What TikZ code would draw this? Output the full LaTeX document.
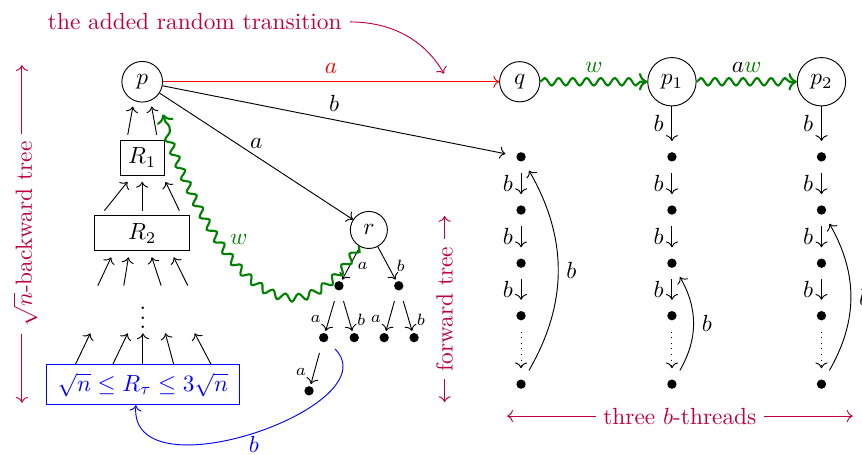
\documentclass[tikz,border=0pt]{standalone}
\usetikzlibrary{arrows.meta, decorations.pathmorphing}
\usepackage{xcolor}
\colorlet{notecol}{purple}
\colorlet{wcol}{green!50!black}

\begin{document}
\begin{tikzpicture}[
    state/.style = {circle, draw},
    rbox/.style  = {rectangle, draw},
    dot/.style   = {circle, fill, inner sep=0pt, minimum size=4pt,
                    outer sep=4.8pt},
    arr/.style   = {-{To}},
    tarr/.style  = {-{To}, shorten >=3pt},
    lbl/.style   = {font=\scriptsize},
    wavy/.style  = {-{To}, draw=wcol, line width=0.9pt, decorate,
                    decoration={snake, amplitude=1.6pt, segment length=6pt,
                                post length=3pt}},
    note/.style  = {{To}-{To}, notecol},
    notetext/.style = {fill=white, inner ysep=1pt},
]
\useasboundingbox (0,0) rectangle (12.97,-6.84);

% ── Top row of states ───────────────────────────────────────────
\node[state] (p)  at (2.14,-1.23)  {$p$};
\node[state] (q)  at (7.82,-1.23)  {$q$};
\node[state] (p1) at (10.11,-1.23) {$p_1$};
\node[state] (p2) at (12.36,-1.23) {$p_2$};

% ── Backward tree ───────────────────────────────────────────────
\node[rbox] (R1) at (2.14,-2.37) {$R_1$};
\node[rbox, minimum width=1.43cm] (R2) at (2.14,-3.51) {$R_2$};
\node (vd) at (2.15,-4.68) {$\vdots$};
\node[rbox, draw=blue, text=blue, inner xsep=5pt] (Rt) at (2.15,-5.79)
    {$\sqrt{n} \le R_\tau \le 3\sqrt{n}$};

\draw[arr] ([xshift=-6.2pt,yshift=2pt]R1.north) -- ([xshift=-4pt,yshift=-1.7pt]p.south);
\draw[arr] ([xshift=6.2pt,yshift=2pt]R1.north) -- ([xshift=4pt,yshift=-1.7pt]p.south);

\draw[arr] ([xshift=-16.2pt,yshift=2pt]R2.north) -- ([xshift=-6.3pt,yshift=-2.7pt]R1.south);
\draw[arr] ([yshift=2pt]R2.north) -- ([yshift=-2.7pt]R1.south);
\draw[arr] ([xshift=15.9pt,yshift=2pt]R2.north) -- ([xshift=10pt,yshift=-2.7pt]R1.south);

\draw[arr] ([xshift=-19pt,yshift=-14.7pt]R2.south) -- ([xshift=-13.3pt,yshift=-2.6pt]R2.south);
\draw[arr] ([xshift=-7.9pt,yshift=-14.7pt]R2.south) -- ([xshift=-5.9pt,yshift=-2.6pt]R2.south);
\draw[arr] ([xshift=8.1pt,yshift=-14.7pt]R2.south) -- ([xshift=4.1pt,yshift=-2.6pt]R2.south);
\draw[arr] ([xshift=19.5pt,yshift=-14.7pt]R2.south) -- ([xshift=13.5pt,yshift=-2.6pt]R2.south);

\draw[arr] ([xshift=-28.9pt]Rt.north) -- ([xshift=-22.5pt,yshift=13.3pt]Rt.north);
\draw[arr] ([xshift=-12.9pt]Rt.north) -- ([xshift=-6.5pt,yshift=13.3pt]Rt.north);
\draw[arr] (Rt.north) -- ([yshift=13.3pt]Rt.north);
\draw[arr] ([xshift=13.2pt]Rt.north) -- ([xshift=9.6pt,yshift=13.3pt]Rt.north);
\draw[arr] ([xshift=29.2pt]Rt.north) -- ([xshift=22.2pt,yshift=13.3pt]Rt.north);

% ── Forward tree ────────────────────────────────────────────────
\node[state] (r) at (5.55,-3.46) {$r$};
\node[dot] (fa)   at (5.10,-4.30) {};
\node[dot] (fb)   at (6.00,-4.30) {};
\node[dot] (faa)  at (4.87,-5.08) {};
\node[dot] (fab)  at (5.33,-5.08) {};
\node[dot] (fba)  at (5.78,-5.08) {};
\node[dot] (fbb)  at (6.23,-5.08) {};
\node[dot] (faaa) at (4.65,-5.88) {};

\draw[tarr] (r) -- node[lbl, right] {$a$} (fa.center);
\draw[tarr] (r) -- node[lbl, right] {$b$} (fb.center);
\draw[tarr] (fa) -- node[lbl, left] {$a$} (faa.center);
\draw[tarr] (fa) -- node[lbl, right] {$b$} (fab.center);
\draw[tarr] (fb) -- node[lbl, left] {$a$} (fba.center);
\draw[tarr] (fb) -- node[lbl, right] {$b$} (fbb.center);
\draw[tarr] (faa) -- node[lbl, left] {$a$} (faaa.center);

% ── Three b-threads ─────────────────────────────────────────────
\node[dot] (t1a) at (7.84,-2.36) {};
\node[dot] (t1b) at (7.84,-3.16) {};
\node[dot] (t1c) at (7.84,-3.96) {};
\node[dot] (t1d) at (7.84,-4.75) {};
\node[dot] (t1e) at (7.84,-5.78) {};

\node[dot] (t2a) at (10.11,-2.36) {};
\node[dot] (t2b) at (10.11,-3.16) {};
\node[dot] (t2c) at (10.11,-3.96) {};
\node[dot] (t2d) at (10.11,-4.75) {};
\node[dot] (t2e) at (10.11,-5.78) {};

\node[dot] (t3a) at (12.36,-2.36) {};
\node[dot] (t3b) at (12.36,-3.16) {};
\node[dot] (t3c) at (12.36,-3.96) {};
\node[dot] (t3d) at (12.36,-4.75) {};
\node[dot] (t3e) at (12.36,-5.78) {};

\draw[arr] (t1a) -- node[left] {$b$} (t1b);
\draw[arr] (t1b) -- node[left] {$b$} (t1c);
\draw[arr] (t1c) -- node[left] {$b$} (t1d);
\draw[arr, dotted] (t1d) -- (t1e);
\draw[arr] (t1e) to[bend right] node[right] {$b$} (t1a);

\draw[arr] (p1) -- node[left] {$b$} (t2a);
\draw[arr] (t2a) -- node[left] {$b$} (t2b);
\draw[arr] (t2b) -- node[left] {$b$} (t2c);
\draw[arr] (t2c) -- node[left] {$b$} (t2d);
\draw[arr, dotted] (t2d) -- (t2e);
\draw[arr] (t2e) to[bend right] node[right] {$b$} (t2c);

\draw[arr] (p2) -- node[left] {$b$} (t3a);
\draw[arr] (t3a) -- node[left] {$b$} (t3b);
\draw[arr] (t3b) -- node[left] {$b$} (t3c);
\draw[arr] (t3c) -- node[left] {$b$} (t3d);
\draw[arr, dotted] (t3d) -- (t3e);
\draw[arr] (t3e) to[bend right] node[right] {$b$} (t3b);

% ── Transitions out of p ────────────────────────────────────────
\draw[arr, red] (p) -- node[above] {$a$} coordinate[pos=0.85] (hit) (q);
\draw[arr] (p) -- node[above] {$b$} (t1a);
\draw[arr] (p) -- node[above] {$a$} (r);

% ── Words w ─────────────────────────────────────────────────────
\draw[wavy] (q) -- node[above, text=wcol] {$w$} (p1);
\draw[wavy] (p1) -- node[above] {$a{\color{wcol}w}$} (p2);
\draw[wavy] (r) to[out=-122, in=-72, out looseness=1.7, in looseness=1.08]
    node[pos=0.6, right, text=wcol] {$w$}
    ([xshift=2.6pt,yshift=-7.7pt]p.south east);

\draw[arr, blue] (faa) to[out=-45, in=-95, in looseness=1.15]
    node[below, inner sep=1pt] {$b$} ([xshift=-3pt]Rt.south);

% ── Annotations ─────────────────────────────────────────────────
\node[text=notecol] (title) at (2.93,-0.33) {the added random transition};
\draw[arr, notecol, shorten >=4pt] (title) to[out=0, in=120] (hit);

\coordinate (bt0) at (0.33,-6.06);
\coordinate (bt1) at (0.33,-0.98);
\draw[note] (bt0) -- node[sloped, notetext, yshift=-1.5pt] {$\sqrt{n}$-backward tree} (bt1);

\coordinate (ft0) at (6.69,-6.05);
\coordinate (ft1) at (6.69,-3.25);
\draw[note] (ft0) -- node[sloped, notetext] {forward tree} (ft1);

\coordinate (th0) at (7.63,-6.26);
\coordinate (th1) at (12.83,-6.26);
\draw[note] (th0) -- node[notetext] {three $b$-threads} (th1);

\end{tikzpicture}
\end{document}
